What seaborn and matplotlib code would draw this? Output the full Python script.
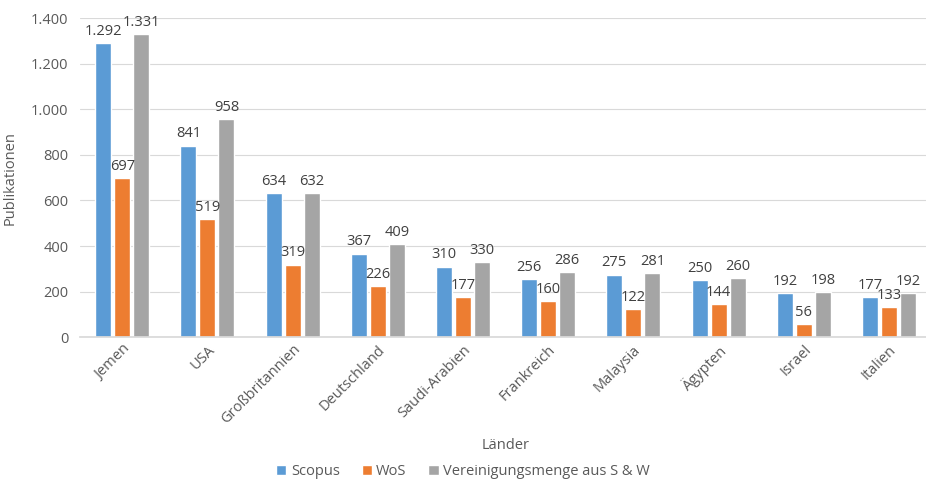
import matplotlib
matplotlib.use("Agg")
import matplotlib.pyplot as plt
import seaborn as sns
import pandas as pd
from matplotlib.ticker import FuncFormatter

countries = ["Jemen", "USA", "Großbritannien", "Deutschland", "Saudi-Arabien",
             "Frankreich", "Malaysia", "Ägypten", "Israel", "Italien"]
scopus = [1292, 841, 634, 367, 310, 256, 275, 250, 192, 177]
wos = [697, 519, 319, 226, 177, 160, 122, 144, 56, 133]
union = [1331, 958, 632, 409, 330, 286, 281, 260, 198, 192]
series_names = ["Scopus", "WoS", "Vereinigungsmenge aus S & W"]
colors = ["#5B9BD5", "#ED7D31", "#A5A5A5"]

rows = []
for name, vals in zip(series_names, [scopus, wos, union]):
    for c, v in zip(countries, vals):
        rows.append({"Land": c, "Serie": name, "Wert": v})
df = pd.DataFrame(rows)

sns.set_theme(style="white")
plt.rcParams['font.family'] = ['Open Sans', 'DejaVu Sans']
text_color = "#595959"

fig = plt.figure(figsize=(9.26, 4.79), dpi=100)
ax = fig.add_axes([0.086, 0.296, 0.92, 0.666])

sns.barplot(data=df, x="Land", y="Wert", hue="Serie", palette=colors,
            width=0.67, gap=0.16, ax=ax, legend=True, saturation=1)

def de_fmt(v, pos=None):
    return f"{int(round(v)):,}".replace(",", ".")

for cont in ax.containers:
    labels = [de_fmt(b.get_height()) for b in cont]
    ax.bar_label(cont, labels=labels, padding=3, fontsize=10.5, color="#404040")

ax.set_ylim(0, 1400)
ax.set_xlim(-0.5, 9.5)
ax.set_yticks(range(0, 1401, 200))
ax.yaxis.set_major_formatter(FuncFormatter(de_fmt))
ax.grid(axis="y", color="#D9D9D9", linewidth=0.8)
ax.set_axisbelow(True)
for s in ["top", "right", "left"]:
    ax.spines[s].set_visible(False)
ax.spines["bottom"].set_color("#D9D9D9")
ax.tick_params(axis="y", colors=text_color, labelsize=10.5, length=0, pad=8)
ax.tick_params(axis="x", colors=text_color, labelsize=10.5, length=0)
plt.setp(ax.get_xticklabels(), rotation=45, ha="right", rotation_mode="anchor")
ax.set_xlabel("Länder", color=text_color, fontsize=10.5, labelpad=8)
ax.set_ylabel("Publikationen", color=text_color, fontsize=10.5, labelpad=10)

handles, labels = ax.get_legend_handles_labels()
ax.legend_.remove()
fig.legend(handles, labels, loc="lower center", bbox_to_anchor=(0.5, -0.028),
           ncol=3, frameon=False, fontsize=10.5, labelcolor=text_color,
           handlelength=0.7, handleheight=0.7, handletextpad=0.3, columnspacing=1.5)

fig.savefig("out.png", dpi=100, facecolor="white")
